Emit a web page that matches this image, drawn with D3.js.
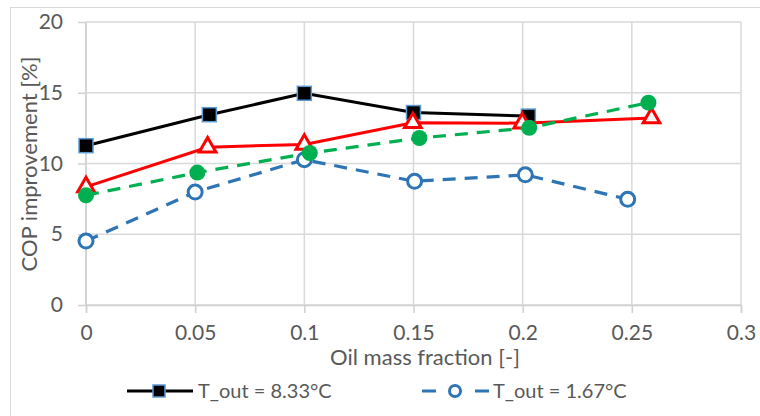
<!DOCTYPE html>
<html>
<head>
<meta charset="utf-8">
<script src="https://cdn.jsdelivr.net/npm/d3@7"></script>
<style>
  html, body { margin: 0; padding: 0; background: #fff; }
  svg text { font-family: Lato, "Open Sans", sans-serif; fill: #595959; }
</style>
</head>
<body>
<svg id="chart" width="760" height="416"></svg>
<script>
// Oil mass fraction vs COP improvement, four test series
const xTicks = [0, 0.05, 0.1, 0.15, 0.2, 0.25, 0.3];
const xTickLabels = ["0", "0.05", "0.1", "0.15", "0.2", "0.25", "0.3"];
const yTicks = [0, 5, 10, 15, 20];

const blackX = [0, 0.0565, 0.1, 0.15, 0.2026];
const blackY = [11.26, 13.45, 14.96, 13.6, 13.35];

const blueX = [0, 0.05, 0.1, 0.1505, 0.2012, 0.2481];
const blueY = [4.52, 7.98, 10.27, 8.74, 9.2, 7.47];

const redX = [0, 0.0557, 0.1, 0.1497, 0.1998, 0.259];
const redY = [8.35, 11.15, 11.35, 12.88, 12.85, 13.22];

const greenX = [0, 0.051, 0.1025, 0.1527, 0.203, 0.2576];
const greenY = [7.75, 9.36, 10.74, 11.8, 12.52, 14.3];

const legendLabels = ["T_out = 8.33°C", "T_out = 1.67°C"];

const svg = d3.select("#chart");

// chart frame
svg.append("rect")
  .attr("x", 10.5).attr("y", 7.5)
  .attr("width", 760).attr("height", 420)
  .attr("fill", "#fff").attr("stroke", "#d9d9d9").attr("stroke-width", 1);

const x = d3.scaleLinear().domain([0, 0.3]).range([86, 741]);
const y = d3.scaleLinear().domain([0, 20]).range([305, 22]);

// gridlines
const grid = svg.append("g");
grid.selectAll("line.h").data(yTicks).join("line")
  .attr("x1", x(0)).attr("x2", x(0.3))
  .attr("y1", d => y(d)).attr("y2", d => y(d))
  .attr("stroke", "#d9d9d9").attr("stroke-width", 1.5);
grid.selectAll("line.v").data(xTicks).join("line")
  .attr("y1", y(0)).attr("y2", y(20))
  .attr("x1", d => x(d)).attr("x2", d => x(d))
  .attr("stroke", "#d9d9d9").attr("stroke-width", 1.5);

// axes
const yAxis = d3.axisLeft(y).tickValues(yTicks).tickSize(8).tickPadding(15);
const xAxis = d3.axisBottom(x).tickValues(xTicks).tickSize(8).tickPadding(12)
  .tickFormat((d, i) => xTickLabels[i]);

const gy = svg.append("g").attr("transform", `translate(${x(0)},0)`).call(yAxis);
const gx = svg.append("g").attr("transform", `translate(0,${y(0)})`).call(xAxis);
[gx, gy].forEach(g => {
  g.select(".domain").attr("stroke", "#d0d0d0").attr("stroke-width", 1.5);
  g.selectAll(".tick line").attr("stroke", "#d0d0d0").attr("stroke-width", 1.5);
  g.selectAll(".tick text").attr("fill", "#595959")
    .style("font-family", "Lato, 'Open Sans', sans-serif").style("font-size", "21px");
});
gy.select(".domain").remove();
gy.append("line").attr("x1", 0).attr("x2", 0).attr("y1", y(0)).attr("y2", y(20))
  .attr("stroke", "#d0d0d0").attr("stroke-width", 1.5);

// axis titles
svg.append("text")
  .attr("x", 425).attr("y", 365)
  .attr("text-anchor", "middle")
  .style("font-size", "22px")
  .text("Oil mass fraction [-]");
svg.append("text")
  .attr("transform", `translate(37,164) rotate(-90)`)
  .attr("text-anchor", "middle")
  .style("font-size", "22px")
  .text("COP improvement [%]");

const line = d3.line().x(d => x(d[0])).y(d => y(d[1]));
const zip = (xs, ys) => xs.map((v, i) => [v, ys[i]]);

const blackData = zip(blackX, blackY);
const blueData = zip(blueX, blueY);
const redData = zip(redX, redY);
const greenData = zip(greenX, greenY);

const plot = svg.append("g");

// black series, filled squares
plot.append("path").datum(blackData).attr("d", line)
  .attr("fill", "none").attr("stroke", "#000").attr("stroke-width", 3);
plot.selectAll("rect.sq").data(blackData).join("rect")
  .attr("x", d => x(d[0]) - 7).attr("y", d => y(d[1]) - 7)
  .attr("width", 14).attr("height", 14)
  .attr("fill", "#000").attr("stroke", "#5b9bd5").attr("stroke-width", 1.5);

// blue series, dashed with open circles
plot.append("path").datum(blueData).attr("d", line)
  .attr("fill", "none").attr("stroke", "#2e75b6").attr("stroke-width", 3.2)
  .attr("stroke-dasharray", "13 9");
plot.selectAll("circle.bl").data(blueData).join("circle")
  .attr("cx", d => x(d[0])).attr("cy", d => y(d[1])).attr("r", 7)
  .attr("fill", "#fff").attr("stroke", "#2e75b6").attr("stroke-width", 3);

// red series, open triangles
plot.append("path").datum(redData).attr("d", line)
  .attr("fill", "none").attr("stroke", "#ff0000").attr("stroke-width", 3);
const tri = d3.symbol().type(d3.symbolTriangle).size(120);
plot.selectAll("path.tr").data(redData).join("path")
  .attr("d", tri)
  .attr("transform", d => `translate(${x(d[0])},${y(d[1])})`)
  .attr("fill", "#fff").attr("stroke", "#ff0000").attr("stroke-width", 3);

// green series, dashed with filled circles
plot.append("path").datum(greenData).attr("d", line)
  .attr("fill", "none").attr("stroke", "#00b050").attr("stroke-width", 3.2)
  .attr("stroke-dasharray", "13 9");
plot.selectAll("circle.gr").data(greenData).join("circle")
  .attr("cx", d => x(d[0])).attr("cy", d => y(d[1])).attr("r", 8)
  .attr("fill", "#00b050");

// legend
const lg = svg.append("g");
const ly = 391;
lg.append("line").attr("x1", 127).attr("x2", 193).attr("y1", ly).attr("y2", ly)
  .attr("stroke", "#000").attr("stroke-width", 3);
lg.append("rect").attr("x", 153).attr("y", ly - 6).attr("width", 12).attr("height", 12)
  .attr("fill", "#000").attr("stroke", "#5b9bd5").attr("stroke-width", 1.5);
lg.append("text").attr("x", 198).attr("y", ly + 7).style("font-size", "20px").text(legendLabels[0]);

lg.append("line").attr("x1", 422).attr("x2", 489).attr("y1", ly).attr("y2", ly)
  .attr("stroke", "#2e75b6").attr("stroke-width", 3.2).attr("stroke-dasharray", "14 39");
lg.append("circle").attr("cx", 455).attr("cy", ly).attr("r", 5.5)
  .attr("fill", "#fff").attr("stroke", "#2e75b6").attr("stroke-width", 3);
lg.append("text").attr("x", 493).attr("y", ly + 7).style("font-size", "20px").text(legendLabels[1]);
</script>
</body>
</html>
